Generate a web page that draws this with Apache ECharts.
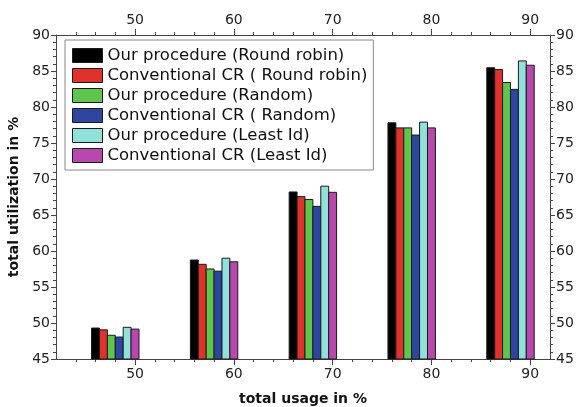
<!DOCTYPE html>
<html>
<head>
<meta charset="utf-8">
<script src="https://cdn.jsdelivr.net/npm/echarts@6/dist/echarts.min.js"></script>
<style>
html, body { margin: 0; padding: 0; background: #fff; }
#chart { width: 577px; height: 407px; }
</style>
</head>
<body>
<div id="chart"></div>
<script>
// 数据
var usage = [50, 60, 70, 80, 90];
var seriesNames = [
    'Our procedure (Round robin)',
    'Conventional CR ( Round robin)',
    'Our procedure (Random)',
    'Conventional CR ( Random)',
    'Our procedure (Least Id)',
    'Conventional CR (Least Id)'
];
var ourRoundRobin = [49.3, 58.75, 68.2, 77.8, 85.45];
var convRoundRobin = [49.05, 58.15, 67.55, 77.1, 85.2];
var ourRandom = [48.3, 57.5, 67.15, 77.1, 83.4];
var convRandom = [48.05, 57.2, 66.2, 76.1, 82.45];
var ourLeastId = [49.4, 59.0, 69.0, 77.9, 86.4];
var convLeastId = [49.15, 58.5, 68.15, 77.1, 85.8];
var colors = ['#000000', '#e0312a', '#5ec64c', '#2e46a0', '#8fe1da', '#b847ae'];
var majorX = [50, 60, 70, 80, 90];
var minorX = [44, 46, 48, 52, 54, 56, 58, 62, 64, 66, 68, 72, 74, 76, 78, 82, 84, 86, 88];

var allData = [ourRoundRobin, convRoundRobin, ourRandom, convRandom, ourLeastId, convLeastId];
var barUnit = 0.8; // 每根柱子宽度(x 轴单位)
var fontFamily = 'DejaVu Sans';
var axisColor = '#444';
var labelStyle = { color: '#222', fontSize: 14, fontFamily: fontFamily };

function makeXAxis(pos, major) {
    return {
        type: 'value', position: pos, min: 42, max: 92,
        axisLine: { show: major, lineStyle: { color: axisColor, width: 1 } },
        axisTick: { show: true, length: major ? 6 : 3, lineStyle: { color: axisColor },
            customValues: major ? majorX : minorX },
        axisLabel: major ? Object.assign({ customValues: majorX, margin: 8 }, labelStyle) : { show: false },
        splitLine: { show: false }
    };
}

function makeYAxis(pos) {
    return {
        type: 'value', position: pos, min: 45, max: 90, interval: 5,
        axisLine: { show: true, lineStyle: { color: axisColor, width: 1 } },
        axisTick: { show: true, length: 5, lineStyle: { color: axisColor } },
        minorTick: { show: true, splitNumber: 5, length: 3, lineStyle: { color: axisColor } },
        axisLabel: Object.assign({ margin: 6 }, labelStyle),
        splitLine: { show: false }
    };
}

var xBottom = makeXAxis('bottom', true);
xBottom.name = 'total usage in %';
xBottom.nameLocation = 'middle';
xBottom.nameGap = 33;
xBottom.nameTextStyle = { color: '#111', fontSize: 14, fontWeight: 'bold', fontFamily: fontFamily };

var yLeft = makeYAxis('left');
yLeft.name = 'total utilization in %';
yLeft.nameLocation = 'middle';
yLeft.nameGap = 30;
yLeft.nameTextStyle = { color: '#111', fontSize: 14, fontWeight: 'bold', fontFamily: fontFamily };

function renderBar(params, api) {
    var x = api.value(0);
    var top = api.coord([x, api.value(1)]);
    var base = api.coord([x, 45]);
    var w = api.size([barUnit, 0])[0];
    return {
        type: 'rect',
        shape: { x: top[0] - w / 2, y: top[1], width: w, height: base[1] - top[1] },
        style: { fill: api.visual('color'), stroke: '#1a1a1a', lineWidth: 1 }
    };
}

// 最后一根柱子(品红)中心对准刻度
var series = [];
for (var s = 0; s < allData.length; s++) {
    var pts = [];
    for (var i = 0; i < usage.length; i++) {
        pts.push([usage[i] + (s - 5) * barUnit, allData[s][i]]);
    }
    series.push({
        name: seriesNames[s],
        type: 'custom',
        xAxisIndex: 0,
        yAxisIndex: 0,
        renderItem: renderBar,
        encode: { x: 0, y: 1 },
        data: pts,
        itemStyle: { color: colors[s], borderColor: '#1a1a1a', borderWidth: 1 },
        emphasis: { disabled: true }
    });
}

var chart = echarts.init(document.getElementById('chart'));
chart.setOption({
    animation: false,
    grid: { left: 56, right: 27, top: 35, bottom: 48, containLabel: false, outerBoundsMode: 'none' },
    legend: {
        orient: 'vertical',
        left: 65, top: 40,
        padding: [7, 6, 6, 7],
        icon: 'rect',
        itemWidth: 30, itemHeight: 14, itemGap: 3,
        borderColor: '#888', borderWidth: 1,
        backgroundColor: '#fff',
        data: seriesNames,
        itemStyle: { borderColor: '#1a1a1a', borderWidth: 1 },
        textStyle: { color: '#111', fontSize: 16.5, fontFamily: fontFamily, padding: [0, 0, 0, 0] }
    },
    xAxis: [xBottom, makeXAxis('bottom', false), makeXAxis('top', true), makeXAxis('top', false)],
    yAxis: [yLeft, makeYAxis('right')],
    series: series
});
</script>
</body>
</html>
